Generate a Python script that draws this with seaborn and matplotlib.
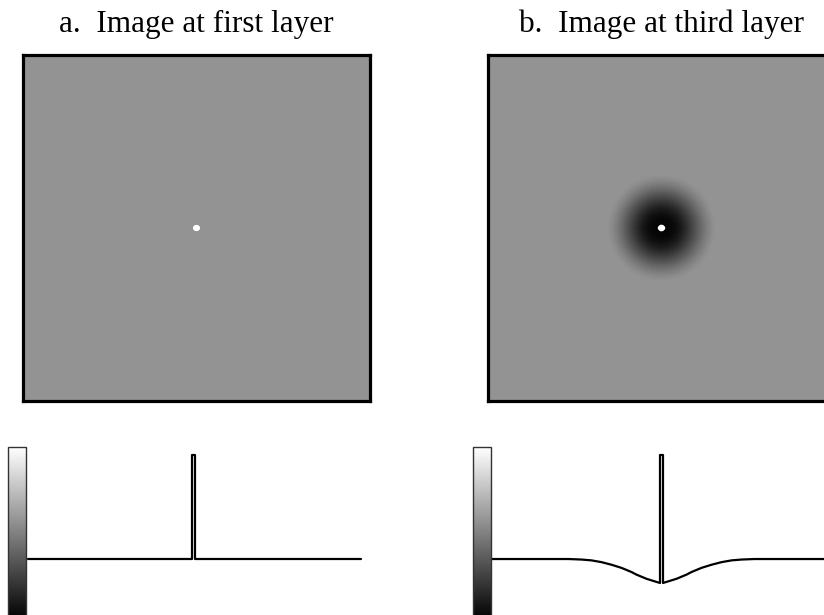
import numpy as np
import pandas as pd
import matplotlib
matplotlib.use("Agg")
import matplotlib.pyplot as plt
import seaborn as sns

sns.set_style("white")
plt.rcParams['font.family'] = ['Liberation Serif', 'DejaVu Serif']

# --- data ---
titles = ["a.  Image at first layer", "b.  Image at third layer"]
background = 0.575          # grey level of the image background

# radial intensity of each image (radius in image pixels -> grey level)
radius_a = [0, 3.3, 4.1, 200]
level_a = [1.0, 1.0, background, background]
radius_b = [0, 3.3, 4.3, 10, 15, 20, 25, 30, 35, 40, 45, 50, 54, 200]
level_b = [1.0, 1.0, 0.02, 0.03, 0.06, 0.11, 0.18, 0.26, 0.34, 0.42, 0.49, 0.545, background, background]

# line profiles through the centre (offset in pixels, relative height)
spike_x = [-1.5, -1.5, 1.5, 1.5]
spike_y = [0.0, 1.0, 1.0, 0.0]
dip_offset = [1.5, 5, 10, 15, 20, 25, 30, 40, 50, 60, 70, 80, 93, 172]
dip_depth = [-0.23, -0.22, -0.205, -0.19, -0.17, -0.15, -0.125, -0.085,
             -0.055, -0.03, -0.013, -0.005, 0.0, 0.0]

W, H = 824, 615
fig = plt.figure(figsize=(W / 100, H / 100), dpi=100)


def box(x0, y0, x1, y1):
    # pixel box (top-left origin) -> figure fraction rect
    return [x0 / W, 1 - y1 / H, (x1 - x0) / W, (y1 - y0) / H]


def radial_image(radius, level, n=347):
    c = np.arange(n) - (n - 1) / 2
    r = np.hypot(*np.meshgrid(c, c))
    return pd.DataFrame(np.interp(r, radius, level))


# --- top row: the two images ---
for i, (x0, radius, level) in enumerate([(23, radius_a, level_a), (488, radius_b, level_b)]):
    ax = fig.add_axes(box(x0, 55, x0 + 347, 401))
    sns.heatmap(radial_image(radius, level), ax=ax, cmap="gray", vmin=0, vmax=1,
                cbar=False, xticklabels=False, yticklabels=False)
    for s in ax.spines.values():
        s.set_visible(True)
        s.set_color("black")
        s.set_linewidth(2.3)
    fig.text((x0 + 173.5) / W, 1 - 32 / H, titles[i], ha="center", va="baseline",
             fontsize=22.5, color="black")

# --- bottom row: grey scale bars and profiles ---
profile_a = pd.DataFrame({"x": [-166] + spike_x + [168],
                          "y": [0.0] + spike_y + [0.0]})
left_x = [-o for o in dip_offset[::-1]]
left_y = dip_depth[::-1]
left_x[0] = -170
profile_b = pd.DataFrame({"x": left_x + [-1.5, 1.5] + dip_offset,
                          "y": left_y + [1.0, 1.0] + dip_depth})

for x0, bar_x, prof in [(20, 8, profile_a), (488, 473, profile_b)]:
    ax = fig.add_axes(box(x0, 440, x0 + 347, 615))
    sns.lineplot(data=prof, x="x", y="y", ax=ax, color="black", linewidth=1.6,
                 estimator=None, sort=False)
    ax.set_xlim(-173.5, 173.5)
    ax.set_ylim(-0.538, 1.144)
    ax.set_axis_off()
    ax.patch.set_alpha(0)

    cax = fig.add_axes(box(bar_x, 447, bar_x + 18, 620))
    cb = fig.colorbar(plt.cm.ScalarMappable(cmap="gray", norm=plt.Normalize(-0.02, 1.05)), cax=cax)
    cb.set_ticks([])
    cb.outline.set_edgecolor("#333333")
    cb.outline.set_linewidth(1.0)

fig.savefig("out.png", dpi=100)
